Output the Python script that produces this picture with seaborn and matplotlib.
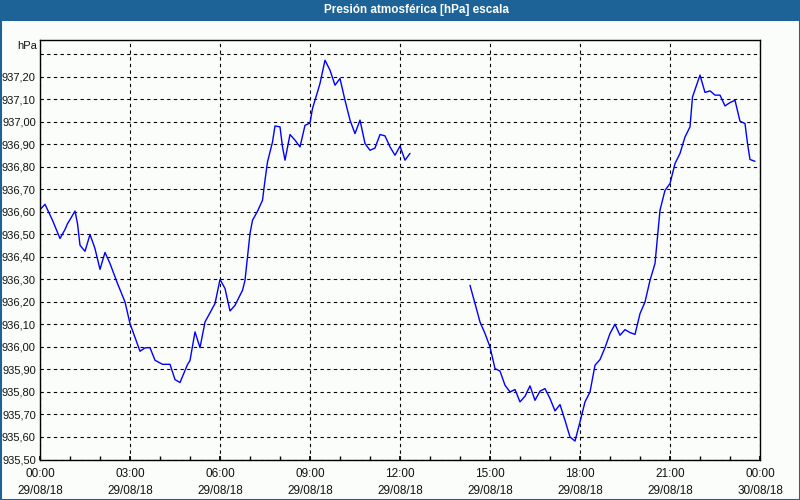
import matplotlib
matplotlib.use("Agg")
import matplotlib.pyplot as plt
import matplotlib.dates as mdates
from matplotlib.ticker import FuncFormatter, MultipleLocator
from matplotlib.patches import Rectangle
import pandas as pd
import seaborn as sns

# ---- data ----
times_morning = ["00:00", "00:10", "00:25", "00:40", "00:50", "00:55", "01:00", "01:10", "01:15", "01:20",
                 "01:30", "01:40", "01:50", "02:00", "02:10", "02:20", "02:35", "02:50", "03:00", "03:20",
                 "03:30", "03:40", "03:50", "04:05", "04:20", "04:30", "04:40", "04:55", "05:00", "05:10",
                 "05:20", "05:30", "05:50", "06:00", "06:10", "06:20", "06:30", "06:45", "06:50", "06:55",
                 "07:00", "07:05", "07:15", "07:25", "07:30", "07:35", "07:45", "07:50", "08:00", "08:05",
                 "08:10", "08:20", "08:30", "08:40", "08:50", "09:00", "09:05", "09:15", "09:20", "09:30",
                 "09:40", "09:50", "10:00", "10:10", "10:20", "10:30", "10:40", "10:50", "11:00", "11:10",
                 "11:20", "11:30", "11:40", "11:50", "12:00", "12:10", "12:20"]
pressure_morning = [936.61, 936.634, 936.563, 936.482, 936.522, 936.548, 936.566, 936.604, 936.548, 936.452,
                    936.425, 936.50, 936.437, 936.345, 936.42, 936.371, 936.282, 936.20, 936.104, 935.981,
                    935.996, 935.997, 935.941, 935.923, 935.923, 935.855, 935.842, 935.922, 935.94, 936.067,
                    935.997, 936.111, 936.193, 936.30, 936.26, 936.16, 936.185, 936.252, 936.296, 936.40,
                    936.504, 936.563, 936.603, 936.652, 936.741, 936.822, 936.911, 936.982, 936.978, 936.889,
                    936.83, 936.944, 936.919, 936.889, 936.985, 936.995, 937.06, 937.133, 937.171, 937.274,
                    937.23, 937.163, 937.193, 937.096, 937.008, 936.948, 937.008, 936.904, 936.874, 936.884,
                    936.944, 936.938, 936.889, 936.852, 936.892, 936.83, 936.86]

times_afternoon = ["14:20", "14:30", "14:40", "14:50", "15:00", "15:10", "15:20", "15:30", "15:40", "15:50",
                   "16:00", "16:10", "16:20", "16:30", "16:40", "16:50", "17:00", "17:10", "17:20", "17:30",
                   "17:40", "17:50", "18:00", "18:10", "18:20", "18:30", "18:40", "18:50", "19:00", "19:10",
                   "19:20", "19:30", "19:40", "19:50", "20:00", "20:10", "20:20", "20:30", "20:35", "20:40",
                   "20:50", "21:00", "21:10", "21:20", "21:30", "21:40", "21:45", "22:00", "22:10", "22:20",
                   "22:30", "22:40", "22:50", "23:00", "23:10", "23:20", "23:30", "23:35", "23:40", "23:50"]
pressure_afternoon = [936.274, 936.193, 936.111, 936.06, 936.0, 935.904, 935.893, 935.83, 935.80, 935.811,
                      935.756, 935.781, 935.827, 935.763, 935.804, 935.815, 935.771, 935.716, 935.744, 935.674,
                      935.60, 935.582, 935.667, 935.756, 935.80, 935.919, 935.944, 935.997, 936.06, 936.101,
                      936.052, 936.077, 936.064, 936.056, 936.148, 936.2, 936.296, 936.371, 936.489, 936.608,
                      936.696, 936.726, 936.815, 936.86, 936.933, 936.978, 937.111, 937.208, 937.131, 937.138,
                      937.119, 937.119, 937.071, 937.086, 937.096, 937.003, 936.993, 936.904, 936.833, 936.825]

day = "2018-08-29"
title = "Presión atmosférica [hPa] escala"
unit_label = "hPa"
y_min, y_max, y_label_max = 935.50, 937.364, 937.20

seg1 = pd.DataFrame({"time": pd.to_datetime([f"{day} {t}" for t in times_morning]),
                     "hPa": pressure_morning})
seg2 = pd.DataFrame({"time": pd.to_datetime([f"{day} {t}" for t in times_afternoon]),
                     "hPa": pressure_afternoon})

# ---- figure ----
sns.set_theme(style="white")
plt.rcParams["font.family"] = ["Liberation Sans", "DejaVu Sans"]

bg = "#fbfdfb"
fig = plt.figure(figsize=(8, 5), dpi=100, facecolor=bg)
ax = fig.add_axes([40 / 800, 1 - 459.5 / 500, 720 / 800, 419.5 / 500])
ax.set_facecolor(bg)

sns.lineplot(data=seg1, x="time", y="hPa", ax=ax, color="#0000ff", linewidth=1.0)
sns.lineplot(data=seg2, x="time", y="hPa", ax=ax, color="#0000ff", linewidth=1.0)

ax.set_xlim(pd.Timestamp(f"{day} 00:00"), pd.Timestamp("2018-08-30 00:00"))
ax.set_ylim(y_min, y_max)

ax.xaxis.set_major_locator(mdates.HourLocator(byhour=range(0, 24, 3)))
ax.xaxis.set_minor_locator(mdates.HourLocator())
ax.xaxis.set_major_formatter(mdates.DateFormatter("%H:%M\n%d/%m/%y"))
ax.yaxis.set_major_locator(MultipleLocator(0.1))
ax.yaxis.set_major_formatter(FuncFormatter(
    lambda v, p: f"{v:.2f}".replace(".", ",") if v <= y_label_max + 1e-6 else ""))

ax.grid(True, which="major", color="black", linestyle=(0, (3, 3)), linewidth=0.8)
ax.set_xlabel("")
ax.set_ylabel("")

ax.tick_params(axis="x", which="both", direction="in", length=3, color="black",
               bottom=True, labelsize=8.5, pad=6, labelcolor="#111111")
ax.tick_params(axis="y", which="both", length=0, pad=3, labelsize=8, labelcolor="#111111")
for lab in ax.get_xticklabels():
    lab.set_linespacing(1.55)

for s in ax.spines.values():
    s.set_visible(True)
    s.set_color("black")
    s.set_linewidth(1.0)

# unit label
fig.text(37 / 800, 1 - 46 / 500, unit_label, ha="right", va="center", fontsize=8, color="#111111")

# title bar
fig.patches.append(Rectangle((0, 1 - 20.5 / 500), 1, 20.5 / 500, transform=fig.transFigure,
                             facecolor="#1e6397", edgecolor="none", zorder=0))
fig.text(416 / 800, 1 - 10.5 / 500, title, ha="center", va="center", fontsize=8.5,
         fontweight="bold", color="white")
# outer border
fig.patches.append(Rectangle((0.5 / 800, 0.5 / 500), 799 / 800, 499 / 500, transform=fig.transFigure,
                             facecolor="none", edgecolor="#1e6397", linewidth=1.5, zorder=5))

fig.savefig("out.png", dpi=100, facecolor=bg)
